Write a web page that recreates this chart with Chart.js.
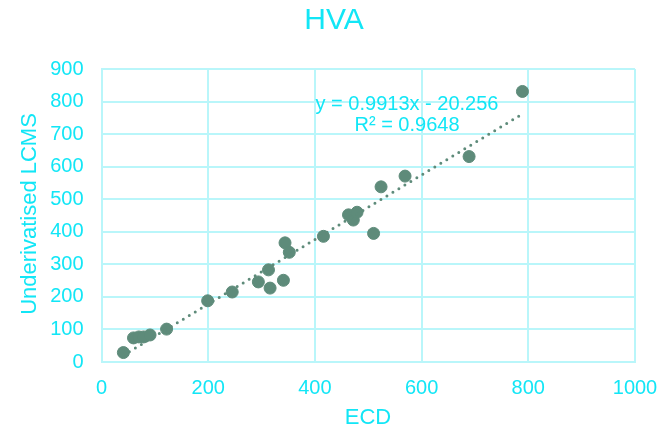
<!DOCTYPE html>
<html>
<head>
<meta charset="utf-8">
<title>HVA</title>
<script src="https://cdn.jsdelivr.net/npm/chart.js@4/dist/chart.umd.min.js"></script>
<style>
  html, body { margin: 0; padding: 0; background: #fff; }
  #wrap { width: 664px; height: 428px; }
</style>
</head>
<body>
<div id="wrap"><canvas id="chart" width="664" height="428"></canvas></div>
<script>
// ECD vs underivatised LCMS
const ecd  = [41, 60, 70, 79, 91, 122, 199, 245, 294, 313, 316, 341, 344, 352, 416, 463, 472, 479, 510, 524, 569, 689, 789];
const lcms = [29, 74, 77, 77, 83, 101, 188, 215, 246, 283, 227, 251, 366, 337, 386, 452, 436, 460, 395, 538, 571, 631, 831];

// Excel linear trendline as printed on the chart
const slope = 0.9913;
const intercept = -20.256;
const rSquared = 0.9648;

const xTicks = [0, 200, 400, 600, 800, 1000];
const yTicks = [0, 100, 200, 300, 400, 500, 600, 700, 800, 900];

const CYAN = '#12E6F6';
const GRID = '#B9F6FA';
const MARK = '#5E8B7A';
const FONT = '"Liberation Sans", Arial, sans-serif';

const points = ecd.map((x, i) => ({ x: x, y: lcms[i] }));
const xMin = Math.min(...ecd);
const xMax = Math.max(...ecd);
const trend = [
    { x: xMin, y: slope * xMin + intercept },
    { x: xMax, y: slope * xMax + intercept }
];

// Title, axis titles and trendline label
const labelsPlugin = {
    id: 'labels',
    afterDraw(chart) {
        const ctx = chart.ctx;
        ctx.save();
        ctx.fillStyle = CYAN;
        ctx.textAlign = 'center';
        ctx.textBaseline = 'middle';

        ctx.font = '30px ' + FONT;
        ctx.fillText('HVA', 334, 21);

        ctx.font = '22px ' + FONT;
        ctx.fillText('ECD', 368, 418);

        ctx.save();
        ctx.translate(30, 214);
        ctx.rotate(-Math.PI / 2);
        ctx.fillText('Underivatised LCMS', 0, 0);
        ctx.restore();

        ctx.font = '20px ' + FONT;
        ctx.fillText('y = ' + slope + 'x - ' + Math.abs(intercept).toFixed(3), 407, 104);
        ctx.fillText('R² = ' + rSquared, 407, 125);
        ctx.restore();
    }
};

new Chart(document.getElementById('chart'), {
    type: 'scatter',
    data: {
        datasets: [
            {
                // trendline drawn on top of the markers
                type: 'line',
                data: trend,
                borderColor: MARK,
                borderWidth: 3,
                borderDash: [0, 7],
                borderCapStyle: 'round',
                pointRadius: 0,
                fill: false
            },
            {
                data: points,
                backgroundColor: MARK,
                borderColor: MARK,
                pointRadius: 6,
                pointHoverRadius: 6
            }
        ]
    },
    options: {
        responsive: false,
        animation: false,
        layout: { padding: { top: 69, right: 29, left: 0, bottom: 0 } },
        plugins: {
            legend: { display: false },
            title: { display: false },
            tooltip: { enabled: false }
        },
        scales: {
            x: {
                type: 'linear',
                min: 0,
                max: 1000,
                afterBuildTicks: (scale) => { scale.ticks = xTicks.map(v => ({ value: v })); },
                afterFit: (scale) => { scale.height = 66; scale.paddingRight = 0; scale.paddingLeft = 0; },
                grid: { color: GRID, lineWidth: 2, drawTicks: false },
                border: { color: GRID, width: 2 },
                ticks: {
                    color: CYAN,
                    font: { size: 20, family: FONT },
                    padding: 14,
                    maxRotation: 0,
                    callback: (v) => String(v)
                }
            },
            y: {
                type: 'linear',
                min: 0,
                max: 900,
                afterBuildTicks: (scale) => { scale.ticks = yTicks.map(v => ({ value: v })); },
                afterFit: (scale) => { scale.width = 101.5; },
                grid: { color: GRID, lineWidth: 2, drawTicks: false },
                border: { color: GRID, width: 2 },
                ticks: { color: CYAN, font: { size: 20, family: FONT }, padding: 18, callback: (v) => String(v) }
            }
        }
    },
    plugins: [labelsPlugin]
});
</script>
</body>
</html>
